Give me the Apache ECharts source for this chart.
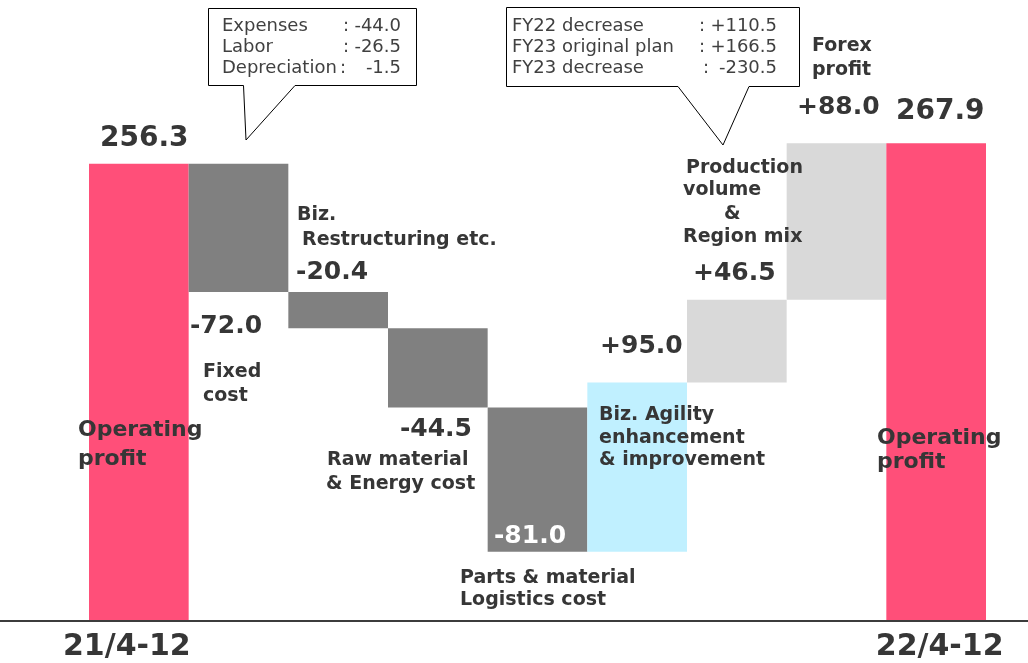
<!DOCTYPE html>
<html><head><meta charset="utf-8">
<script src="https://cdn.jsdelivr.net/npm/echarts@6/dist/echarts.min.js"></script>
<style>html,body{margin:0;padding:0;background:#fff}#c{width:1028px;height:663px}</style>
</head><body><div id="c"></div>
<script>
// ---------- data ----------
const categories = ['21/4-12', 'Fixed cost', 'Biz. Restructuring etc.', 'Raw material & Energy cost',
  'Parts & material Logistics cost', 'Biz. Agility enhancement & improvement',
  'Production volume & Region mix', 'Forex profit', '22/4-12'];
const values = [256.3, -72.0, -20.4, -44.5, -81.0, 95.0, 46.5, 88.0, 267.9];
const kinds = ['total', 'decrease', 'decrease', 'decrease', 'decrease', 'agility', 'increase', 'increase', 'total'];
const tickLabels = ['21/4-12', '', '', '', '', '', '', '', '22/4-12'];
const fixedCostItems = ['Expenses', 'Labor', 'Depreciation'];
const fixedCostValues = [-44.0, -26.5, -1.5];
const volumeItems = ['FY22 decrease', 'FY23 original plan', 'FY23 decrease'];
const volumeValues = [110.5, 166.5, -230.5];
const annotationLines = [
  ['Operating', 'profit'], ['Fixed', 'cost'], ['Biz.', 'Restructuring etc.'],
  ['Raw material', '& Energy cost'], ['Parts & material', 'Logistics cost'],
  ['Biz. Agility', 'enhancement', '& improvement'],
  ['Production', 'volume', '&', 'Region mix'], ['Forex', 'profit'], ['Operating', 'profit']
];

// ---------- style ----------
const FONT = '"DejaVu Sans", Verdana, sans-serif';
const TEXT = '#363636';
const kindColor = { total: '#FF4F79', decrease: '#808080', agility: '#C0F0FF', increase: '#D9D9D9' };
const valueLabelLayout = [
  { dx: 11, anchor: '0%', dy: -25.5, size: 28 },
  { dx: 1.3, anchor: '100%', dy: 34.5, size: 25 },
  { dx: 7.7, anchor: '0%', dy: -19, size: 25 },
  { dx: 84, anchor: '100%', dy: 22.5, size: 25, align: 'right' },
  { dx: 6.3, anchor: '100%', dy: -15, size: 25, color: '#fff' },
  { dx: 12.7, anchor: '0%', dy: -36, size: 25 },
  { dx: 6, anchor: '0%', dy: -26.3, size: 25 },
  { dx: 10.3, anchor: '0%', dy: -36, size: 25 },
  { dx: 9.7, anchor: '0%', dy: -31, size: 28 }
];
// per annotation: [x, baseline] for each line, font size
const annotationLayout = [
  { size: 22, pos: [[78, 438], [78, 467]] },
  { size: 19, pos: [[203, 379], [203, 403]] },
  { size: 19, pos: [[297, 222], [302, 247]] },
  { size: 19, pos: [[327, 467], [326, 491]] },
  { size: 19, pos: [[460, 585], [460, 607]] },
  { size: 19, pos: [[599, 422], [599, 445], [599, 467]] },
  { size: 19, pos: [[686, 175], [683, 197], [724, 221], [683, 244]] },
  { size: 19, pos: [[812, 53], [812, 77]] },
  { size: 22, pos: [[877, 446], [877, 470]] }
];

// ---------- waterfall computation ----------
const baseData = [], barData = [];
let running = 0;
values.forEach((v, i) => {
  if (kinds[i] === 'total') { baseData.push(0); barData.push(v); running = v; }
  else if (v < 0) { running += v; baseData.push(+running.toFixed(1)); barData.push(-v); }
  else { baseData.push(+running.toFixed(1)); barData.push(v); running += v; }
});
const fmtSigned = v => (v > 0 ? '+' : '') + v.toFixed(1);
const valueText = values.map((v, i) => kinds[i] === 'total' ? v.toFixed(1) : fmtSigned(v));

const chart = echarts.init(document.getElementById('c'), null, { renderer: 'canvas' });

function txt(text, x, baseline, size, weight, align, color) {
  return {
    type: 'text', z: 100,
    style: {
      text: text, x: x, y: baseline - 0.346 * size,
      font: (weight || 'normal') + ' ' + size + 'px ' + FONT,
      fill: color || TEXT,
      textAlign: align || 'left', align: align || 'left',
      textVerticalAlign: 'middle', verticalAlign: 'middle'
    }
  };
}

const graphics = [];
// axis baseline across whole width
graphics.push({ type: 'line', z: 50, shape: { x1: 0, y1: 621, x2: 1028, y2: 621 }, style: { stroke: '#3c3c3c', lineWidth: 2 } });
// callouts
graphics.push({ type: 'polygon', z: 90, shape: { points: [[208.5, 8.5], [416.5, 8.5], [416.5, 85.5], [295, 85.5], [246, 140], [243.5, 85.5], [208.5, 85.5]] },
  style: { fill: '#fff', stroke: '#000', lineWidth: 1 } });
graphics.push({ type: 'polygon', z: 90, shape: { points: [[506.5, 7.5], [799.5, 7.5], [799.5, 86.5], [749, 86.5], [723, 145], [678, 86.5], [506.5, 86.5]] },
  style: { fill: '#fff', stroke: '#000', lineWidth: 1 } });
const boxBase = [33, 54, 75];
const box1Colon = [343, 343, 340], box2Colon = [699, 699, 703];
fixedCostItems.forEach((t, i) => {
  graphics.push(txt(t, 222, boxBase[i], 18, 'normal', 'left', '#404040'));
  graphics.push(txt(':', box1Colon[i], boxBase[i], 18, 'normal', 'left', '#404040'));
  graphics.push(txt(fmtSigned(fixedCostValues[i]), 401, boxBase[i], 18, 'normal', 'right', '#404040'));
});
volumeItems.forEach((t, i) => {
  graphics.push(txt(t, 512, boxBase[i], 18, 'normal', 'left', '#404040'));
  graphics.push(txt(':', box2Colon[i], boxBase[i], 18, 'normal', 'left', '#404040'));
  graphics.push(txt(fmtSigned(volumeValues[i]), 777, boxBase[i], 18, 'normal', 'right', '#404040'));
});
// category annotations
annotationLines.forEach((lines, i) => {
  const lay = annotationLayout[i];
  lines.forEach((l, j) => graphics.push(txt(l, lay.pos[j][0], lay.pos[j][1], lay.size, 'bold')));
});

const option = {
  animation: false,
  backgroundColor: '#fff',
  grid: { left: 89, right: 42, top: 86, bottom: 43 },
  xAxis: {
    type: 'category', data: categories,
    axisLine: { show: false }, axisTick: { show: false }, splitLine: { show: false },
    axisLabel: {
      interval: 0, margin: 12,
      formatter: (v, i) => tickLabels[i] ? (i === 0 ? '{l|' + tickLabels[i] + '}' : '{r|' + tickLabels[i] + '}') : '',
      rich: {
        l: { fontSize: 30, fontWeight: 'bold', fontFamily: FONT, color: TEXT, lineHeight: 30, padding: [0, 24, 0, 0] },
        r: { fontSize: 30, fontWeight: 'bold', fontFamily: FONT, color: TEXT, lineHeight: 30, padding: [0, 0, 0, 7] }
      }
    }
  },
  yAxis: { type: 'value', min: 0, max: 300, show: false, splitLine: { show: false } },
  series: [
    {
      type: 'bar', stack: 'w', barCategoryGap: 0, silent: true,
      itemStyle: { color: 'rgba(0,0,0,0)' }, data: baseData
    },
    {
      type: 'bar', stack: 'w', barCategoryGap: 0, silent: true,
      data: barData.map((h, i) => {
        const L = valueLabelLayout[i];
        return {
          value: h,
          itemStyle: { color: kindColor[kinds[i]] },
          label: {
            show: true, formatter: valueText[i],
            position: [L.dx, L.anchor], offset: [0, L.dy],
            align: L.align || 'left', verticalAlign: 'middle',
            fontSize: L.size, lineHeight: L.size, fontWeight: 'bold', fontFamily: FONT,
            color: L.color || TEXT
          }
        };
      })
    }
  ],
  graphic: { elements: graphics }
};
chart.setOption(option);
</script>
</body></html>
